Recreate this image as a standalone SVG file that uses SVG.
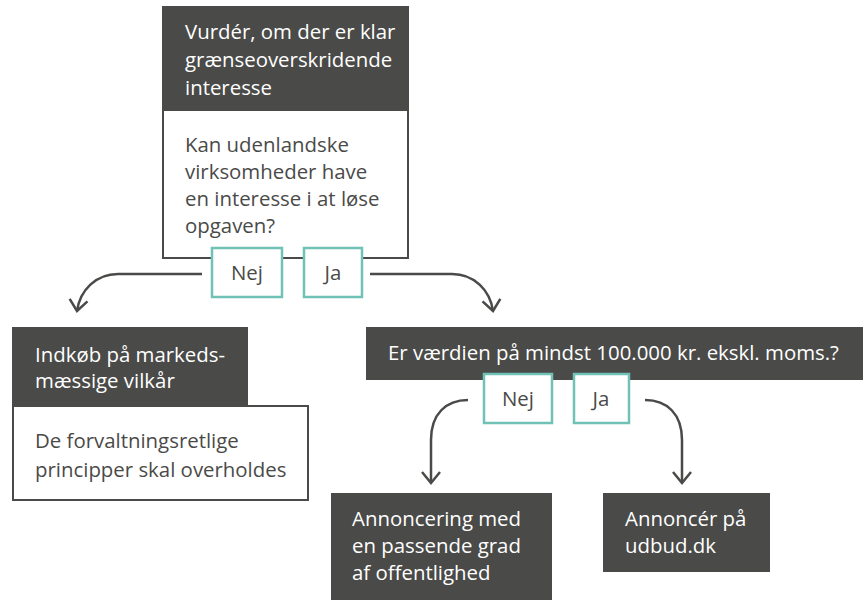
<svg xmlns="http://www.w3.org/2000/svg" width="863" height="600" viewBox="0 0 863 600">
<defs>
<style>
.dark{fill:#4a4a48;}
.wbox{fill:#fff;stroke:#4a4a48;stroke-width:2;}
.lbl{fill:#fff;stroke:#6fc2b5;stroke-width:2.5;}
text{font-family:"Open Sans","Noto Sans",sans-serif;font-size:20.4px;}
.wt{fill:#ffffff;}
.dt{fill:#4a4a48;}
.conn{fill:none;stroke:#4a4a48;stroke-width:2.5;}
</style>
<marker id="arr" markerUnits="userSpaceOnUse" markerWidth="30" markerHeight="30" viewBox="-15 -15 30 30" refX="0" refY="0" orient="auto">
<path d="M-11,-9 L0,0 L-11,9" fill="none" stroke="#4a4a48" stroke-width="2.5"/>
</marker>
</defs>
<rect width="863" height="600" fill="#fff"/>
<g id="connectors">
<path class="conn" d="M202,274 L118,274 C96,274 80,290 77,311" marker-end="url(#arr)"/>
<path class="conn" d="M370,274 L452,274 C474,274 490,290 493,311" marker-end="url(#arr)"/>
<path class="conn" d="M468,400 C446,400 431,414 431,440 L431,483" marker-end="url(#arr)"/>
<path class="conn" d="M645,400 C667,400 682,414 682,440 L682,483" marker-end="url(#arr)"/>
</g>
<g id="node-graense">
<rect class="wbox" x="163" y="7" width="245" height="251"/>
<rect class="dark" x="163" y="6" width="245" height="105"/>
<text class="wt" x="185" y="39">Vurdér, om der er klar</text>
<text class="wt" x="185" y="67">grænseoverskridende</text>
<text class="wt" x="185" y="95">interesse</text>
<text class="dt" x="185" y="152">Kan udenlandske</text>
<text class="dt" x="185" y="179">virksomheder have</text>
<text class="dt" x="185" y="206">en interesse i at løse</text>
<text class="dt" x="185" y="233">opgaven?</text>
</g>
<g id="label-nej-1">
<rect class="lbl" x="212" y="248" width="70" height="49"/>
<text class="dt" x="247" y="280" text-anchor="middle">Nej</text>
</g>
<g id="label-ja-1">
<rect class="lbl" x="304" y="248" width="58" height="49"/>
<text class="dt" x="333" y="280" text-anchor="middle">Ja</text>
</g>
<g id="node-indkob">
<rect class="wbox" x="13" y="406" width="295" height="94"/>
<rect class="dark" x="12" y="327" width="236" height="79"/>
<text class="wt" x="35" y="362">Indkøb på markeds-</text>
<text class="wt" x="35" y="388">mæssige vilkår</text>
<text class="dt" x="35" y="448">De forvaltningsretlige</text>
<text class="dt" x="35" y="477">principper skal overholdes</text>
</g>
<g id="node-vaerdi">
<rect class="dark" x="366" y="327" width="497" height="53"/>
<text class="wt" x="388" y="360">Er værdien på mindst 100.000 kr. ekskl. moms.?</text>
</g>
<g id="label-nej-2">
<rect class="lbl" x="484" y="374" width="68" height="49"/>
<text class="dt" x="518" y="406" text-anchor="middle">Nej</text>
</g>
<g id="label-ja-2">
<rect class="lbl" x="574" y="374" width="55" height="49"/>
<text class="dt" x="601" y="406" text-anchor="middle">Ja</text>
</g>
<g id="node-annoncering">
<rect class="dark" x="331" y="493" width="221" height="107"/>
<text class="wt" x="352" y="526">Annoncering med</text>
<text class="wt" x="352" y="553">en passende grad</text>
<text class="wt" x="352" y="580">af offentlighed</text>
</g>
<g id="node-udbud">
<rect class="dark" x="603" y="493" width="167" height="79"/>
<text class="wt" x="625" y="526">Annoncér på</text>
<text class="wt" x="625" y="553">udbud.dk</text>
</g>
</svg>
